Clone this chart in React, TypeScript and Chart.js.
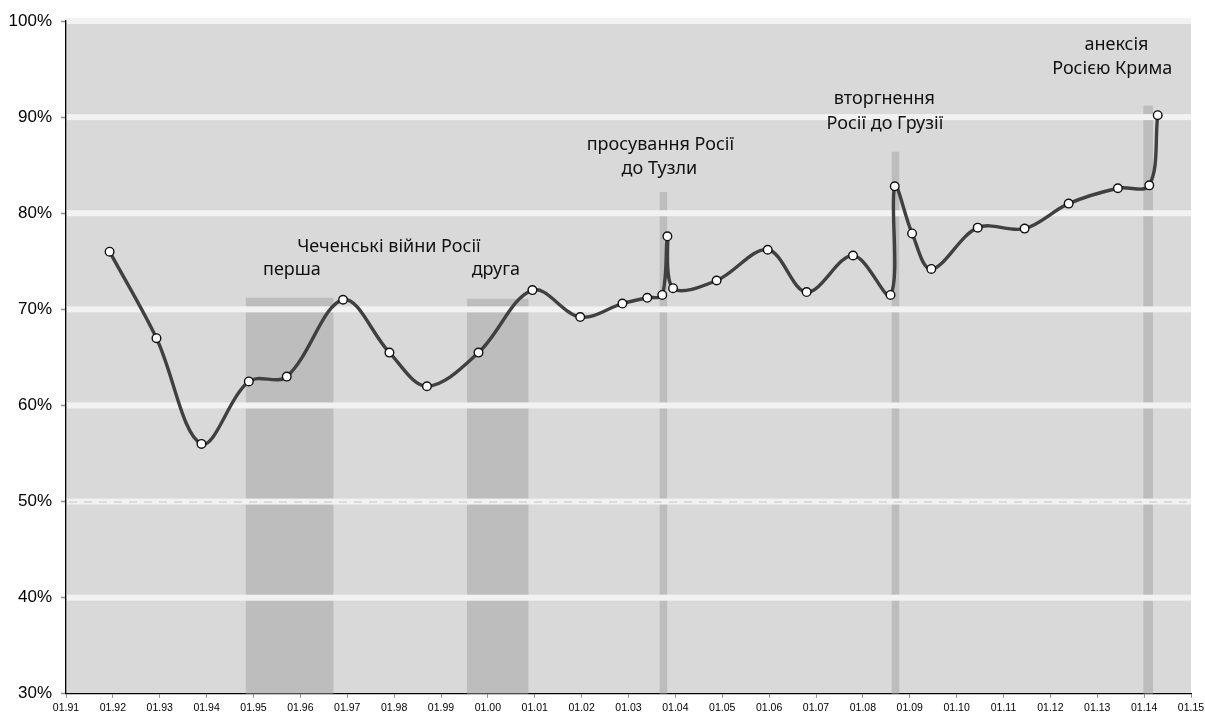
import React, { useEffect, useRef } from 'react';
import { Chart, registerables } from 'chart.js';

Chart.register(...registerables);

// ---- data ----
const pointYears = [
  1991.93, 1992.93, 1993.89, 1994.9, 1995.71, 1996.91, 1997.9, 1998.7, 1999.8, 2000.95,
  2001.97, 2002.87, 2003.4, 2003.72, 2003.83, 2003.95, 2004.88, 2005.97, 2006.8, 2007.79,
  2008.59, 2008.68, 2009.05, 2009.46, 2010.45, 2011.45, 2012.39, 2013.44, 2014.11, 2014.29,
];
const approval = [
  76.0, 67.0, 56.0, 62.5, 63.0, 71.0, 65.5, 62.0, 65.5, 72.0,
  69.2, 70.6, 71.2, 71.5, 77.6, 72.2, 73.0, 76.2, 71.8, 75.6,
  71.5, 82.8, 77.9, 74.2, 78.5, 78.4, 81.0, 82.6, 82.9, 90.2,
];

// shaded event periods
const eventStart = [1994.83, 1999.55, 2003.66, 2008.61, 2013.98];
const eventEnd = [1996.71, 2000.87, 2003.83, 2008.78, 2014.19];
const eventTop = [71.2, 71.1, 82.2, 86.4, 91.2];

// annotation texts (anchored at year / percent)
const noteText = [
  'Чеченські війни Росії',
  'перша',
  'друга',
  'просування Росії',
  'до Тузли',
  'вторгнення',
  'Росії до Грузії',
  'анексія',
  'Росією Крима',
];
const noteYear = [1997.89, 1995.82, 2000.17, 2003.68, 2003.66, 2008.46, 2008.47, 2013.41, 2013.32];
const notePct = [75.98, 73.56, 73.56, 86.61, 84.05, 91.39, 88.8, 97.03, 94.51];

const yMin = 30;
const yMax = 100;
const yStep = 10;
const xMin = 1991;
const xMax = 2015;
const dashedLevel = 50;

const xTickLabel = (v: number) => '01.' + String(Math.round(v) % 100).padStart(2, '0');
const yTickLabel = (v: number) => v + '%';

const bgPlugin = {
  id: 'plotBg',
  beforeDraw(chart: any) {
    const { ctx, chartArea } = chart;
    ctx.save();
    ctx.fillStyle = '#d9d9d9';
    ctx.fillRect(chartArea.left, chartArea.top, chartArea.right - chartArea.left, chartArea.bottom - chartArea.top);
    ctx.restore();
  },
};

const bandPlugin = {
  id: 'bands',
  beforeDatasetDraw(chart: any, args: any) {
    if (args.index !== 0) return;
    const { ctx, chartArea, scales } = chart;
    const y = scales.y;
    ctx.save();
    y.ticks.forEach((t: any) => {
      if (t.value <= yMin) return;
      const py = y.getPixelForValue(t.value);
      ctx.fillStyle = '#f2f2f2';
      ctx.fillRect(chartArea.left + 1, py - 3, chartArea.right - chartArea.left - 1, 6);
      if (t.value === dashedLevel) {
        ctx.strokeStyle = '#c4c4c4';
        ctx.lineWidth = 1;
        ctx.setLineDash([8, 7]);
        ctx.beginPath();
        ctx.moveTo(chartArea.left + 3, py + 0.5);
        ctx.lineTo(chartArea.right, py + 0.5);
        ctx.stroke();
        ctx.setLineDash([]);
      }
    });
    ctx.restore();
  },
};

const notesPlugin = {
  id: 'notes',
  afterDatasetsDraw(chart: any) {
    const { ctx, scales } = chart;
    ctx.save();
    ctx.fillStyle = '#111';
    ctx.font = '18px "Noto Sans"';
    ctx.textAlign = 'center';
    ctx.textBaseline = 'alphabetic';
    noteText.forEach((txt, i) => {
      ctx.fillText(txt, scales.x.getPixelForValue(noteYear[i]), scales.y.getPixelForValue(notePct[i]));
    });
    ctx.restore();
  },
};

export default function App() {
  const ref = useRef<HTMLCanvasElement>(null);
  useEffect(() => {
    if (!ref.current) return;
    const eventSets = eventStart.map((s, i) => ({
      data: [
        { x: s, y: eventTop[i] },
        { x: eventEnd[i], y: eventTop[i] },
      ],
      fill: 'start',
      backgroundColor: '#bdbdbd',
      borderColor: 'rgba(0,0,0,0)',
      borderWidth: 0,
      pointRadius: 0,
      tension: 0,
    }));
    const chart = new Chart(ref.current, {
      type: 'line',
      data: {
        datasets: [
          {
            data: pointYears.map((x, i) => ({ x, y: approval[i] })),
            borderColor: '#404040',
            borderWidth: 3.4,
            tension: 0.35,
            fill: false,
            pointRadius: 4.3,
            pointBackgroundColor: '#ffffff',
            pointBorderColor: '#111111',
            pointBorderWidth: 1.4,
          },
          ...eventSets,
        ] as any,
      },
      options: {
        animation: false,
        responsive: true,
        maintainAspectRatio: false,
        layout: { padding: { top: 21, right: 14, left: 0, bottom: 0 } },
        plugins: { legend: { display: false }, tooltip: { enabled: false } },
        scales: {
          x: {
            type: 'linear',
            min: xMin,
            max: xMax,
            afterFit: (s: any) => {
              s.height = 19;
              s.paddingLeft = 0;
              s.paddingRight = 0;
            },
            ticks: {
              stepSize: 1,
              autoSkip: false,
              maxRotation: 0,
              padding: 4,
              color: '#000',
              font: { family: '"Liberation Sans", Arial', size: 10.5 },
              callback: (v: any) => xTickLabel(Number(v)),
            },
            grid: { drawOnChartArea: false, drawTicks: true, tickLength: 4, tickColor: '#909090', tickWidth: 1 },
            border: { display: true, color: '#000', width: 1.3 },
          },
          y: {
            type: 'linear',
            min: yMin,
            max: yMax,
            afterFit: (s: any) => {
              s.width = 66;
            },
            ticks: {
              stepSize: yStep,
              padding: 9,
              color: '#000',
              font: { family: '"Liberation Sans", Arial', size: 17 },
              callback: (v: any) => yTickLabel(Number(v)),
            },
            grid: { drawOnChartArea: false, drawTicks: true, tickLength: 5, tickColor: '#909090', tickWidth: 1.5 },
            border: { display: true, color: '#000', width: 1.3 },
          },
        },
      } as any,
      plugins: [bgPlugin, bandPlugin, notesPlugin],
    });
    return () => chart.destroy();
  }, []);
  return (
    <div style={{ position: 'fixed', left: 0, top: 0, width: 1205, height: 713, background: '#fff' }}>
      <canvas ref={ref} />
    </div>
  );
}
